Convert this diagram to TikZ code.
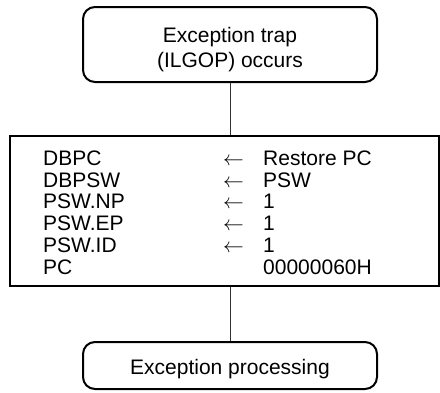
\documentclass[tikz,border=0pt]{standalone}
\usepackage{fontspec}
\setmainfont{Liberation Sans}
\begin{document}
\begin{tikzpicture}[x=1pt,y=-1pt,
  rbox/.style={draw, line width=2pt, rounded corners=12pt, minimum width=294pt, inner sep=0pt},
  sbox/.style={draw, line width=2pt, inner sep=0pt},
  txt/.style={font=\fontsize{21}{25}\selectfont, inner sep=0pt, anchor=base},
  lt/.style={txt, anchor=base west},
  link/.style={line width=1pt, draw=black!80}]
\useasboundingbox (0,0) rectangle (440,392);
% boxes
\node[rbox, minimum height=75pt] (trap) at (230,44.5) {};
\node[sbox, minimum width=429pt, minimum height=150pt] (regs) at (224.5,211) {};
\node[rbox, minimum height=47pt] (proc) at (230,365.5) {};
% connectors
\draw[link] (trap.south) -- (trap.south |- regs.north);
\draw[link] (trap.south |- regs.south) -- (proc.north);
% texts
\node[txt] (t1) at (230,42) {Exception trap};
\node[txt] (t2) at (230,67) {(ILGOP) occurs};
\node[txt] (t3) at (230,374) {Exception processing};
% register rows
\node[lt] (r1) at (43,165.25) {DBPC};
\node[lt] (r2) at (43,187) {DBPSW};
\node[lt] (r3) at (43,208.75) {PSW.NP};
\node[lt] (r4) at (43,230.5) {PSW.EP};
\node[lt] (r5) at (43,252.25) {PSW.ID};
\node[lt] (r6) at (43,274) {PC};
\node[lt] (a1) at (223,165.25) {$\leftarrow$};
\node[lt] (a2) at (223,187) {$\leftarrow$};
\node[lt] (a3) at (223,208.75) {$\leftarrow$};
\node[lt] (a4) at (223,230.5) {$\leftarrow$};
\node[lt] (a5) at (223,252.25) {$\leftarrow$};
\node[lt] (v1) at (263,165.25) {Restore PC};
\node[lt] (v2) at (263,187) {PSW};
\node[lt] (v3) at (263,208.75) {1};
\node[lt] (v4) at (263,230.5) {1};
\node[lt] (v5) at (263,252.25) {1};
\node[lt] (v6) at (263,274) {00000060H};
\end{tikzpicture}
\end{document}
